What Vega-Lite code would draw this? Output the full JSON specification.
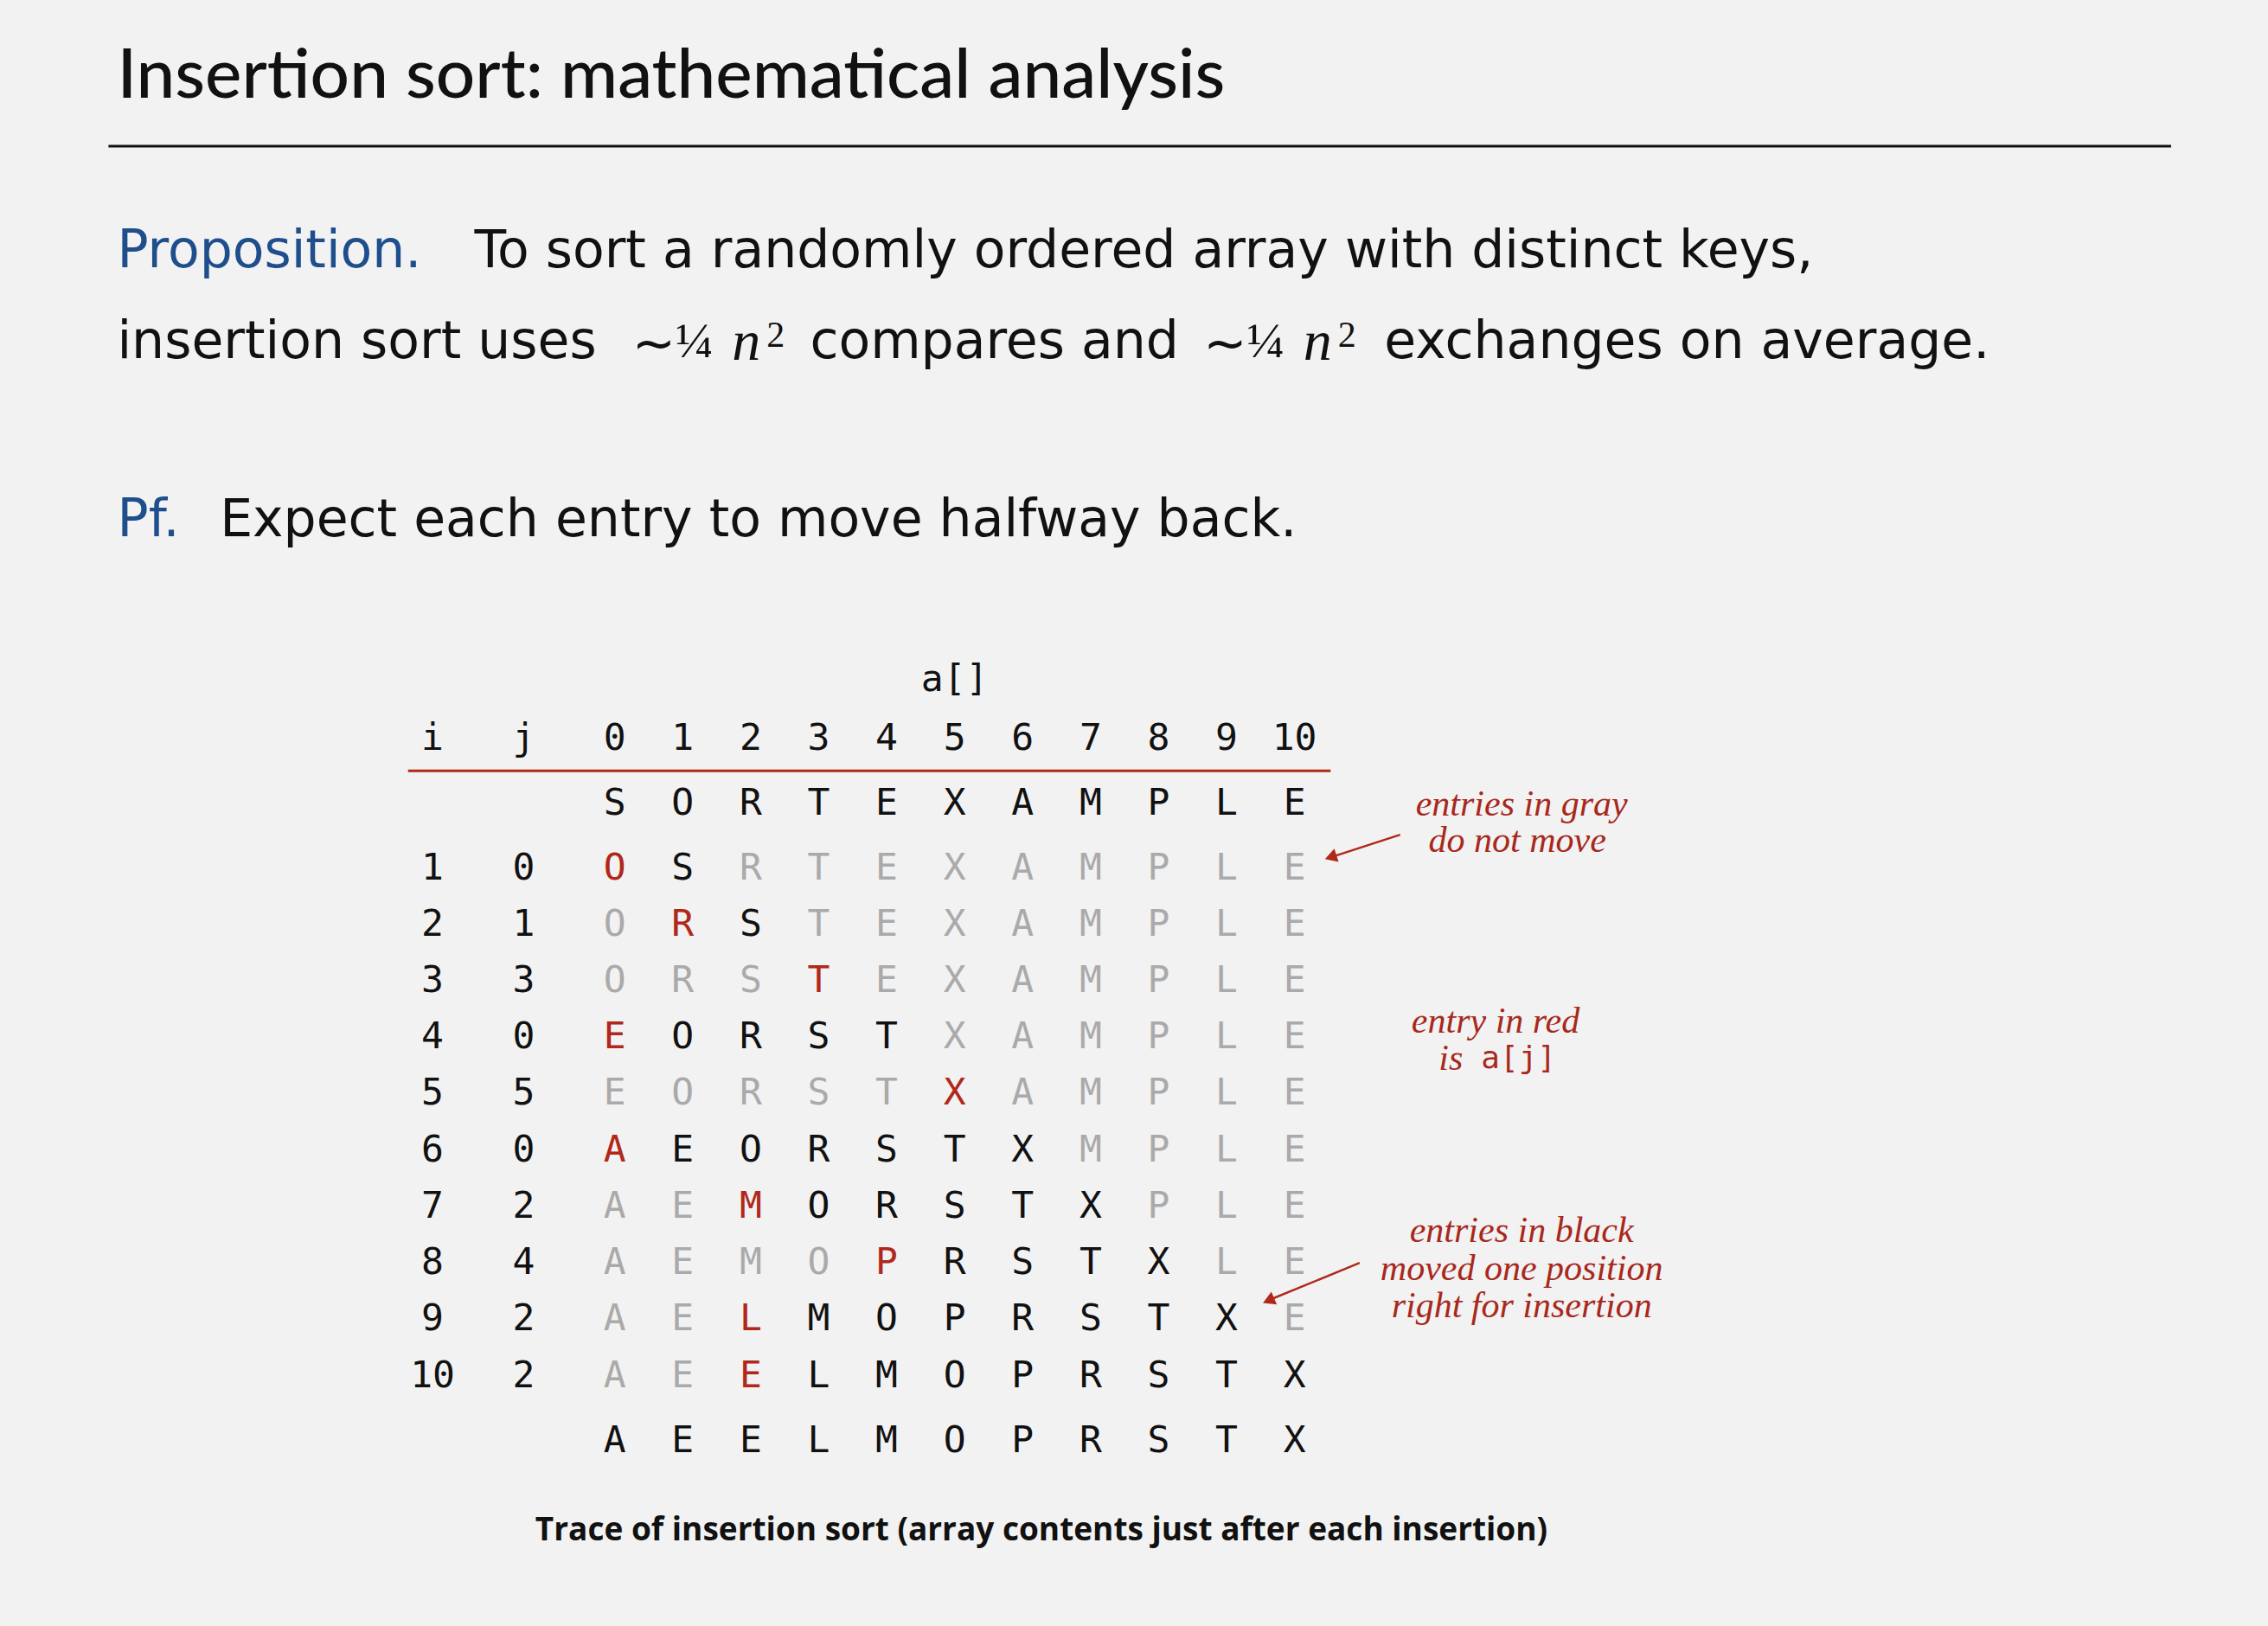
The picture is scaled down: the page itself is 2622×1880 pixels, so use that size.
{
  "$schema": "https://vega.github.io/schema/vega-lite/v6.json",
  "width": 2622,
  "height": 1880,
  "autosize": {"type": "fit", "contains": "padding"},
  "padding": 0,
  "background": "#f2f2f2",
  "config": {"view": {"stroke": null}},
  "datasets": {
    "page": [
      {"role": "title", "x": 81, "y": 53, "t": "Insertion sort:  mathematical analysis"},
      {"role": "blue", "x": 81, "y": 174, "t": "Proposition."},
      {"role": "body", "x": 328, "y": 174, "t": "To sort a randomly ordered array with distinct keys,"},
      {"role": "body", "x": 81, "y": 237, "t": "insertion sort uses"},
      {"role": "body", "x": 437, "y": 239, "t": "~"},
      {"role": "math", "x": 467, "y": 237, "t": "¼"},
      {"role": "mathit", "x": 506, "y": 237, "t": "n"},
      {"role": "sup", "x": 530, "y": 232, "t": "2"},
      {"role": "body", "x": 560, "y": 237, "t": "compares and"},
      {"role": "body", "x": 832, "y": 239, "t": "~"},
      {"role": "math", "x": 862, "y": 237, "t": "¼"},
      {"role": "mathit", "x": 901, "y": 237, "t": "n"},
      {"role": "sup", "x": 925, "y": 232, "t": "2"},
      {"role": "body", "x": 957, "y": 237, "t": "exchanges on average."},
      {"role": "blue", "x": 81, "y": 360, "t": "Pf."},
      {"role": "body", "x": 152, "y": 360, "t": "Expect each entry to move halfway back."},
      {"role": "note", "x": 1052, "y": 556, "t": "entries in gray"},
      {"role": "note", "x": 1049, "y": 581, "t": "do not move"},
      {"role": "note", "x": 1034, "y": 706, "t": "entry in red"},
      {"role": "noteL", "x": 1003, "y": 732, "t": "is"},
      {"role": "noteMono", "x": 1024, "y": 732, "t": "a[j]"},
      {"role": "note", "x": 1052, "y": 851, "t": "entries in black"},
      {"role": "note", "x": 1052, "y": 877, "t": "moved one position"},
      {"role": "note", "x": 1052, "y": 903, "t": "right for insertion"},
      {"role": "caption", "x": 720, "y": 1058, "t": "Trace of insertion sort (array contents just after each insertion)"}
    ],
    "lines": [
      {"kind": "hr", "x": 75, "y": 101, "x2": 1501, "y2": 101},
      {"kind": "arrow", "x": 968, "y": 577, "x2": 922, "y2": 592},
      {"kind": "arrow", "x": 940, "y": 873, "x2": 879, "y2": 898}
    ],
    "heads": [
      {"x": 920, "y": 592.5, "ang": 252},
      {"x": 877, "y": 899, "ang": 247}
    ],
    "table": [
      {"r": -2.33, "c": 5, "v": "a[]", "s": "k"},
      {"r": -1.3, "c": -2.68, "v": "i", "s": "k"},
      {"r": -1.3, "c": -1.34, "v": "j", "s": "k"},
      {"r": -1.3, "c": 0, "v": "0", "s": "k"},
      {"r": -1.3, "c": 1, "v": "1", "s": "k"},
      {"r": -1.3, "c": 2, "v": "2", "s": "k"},
      {"r": -1.3, "c": 3, "v": "3", "s": "k"},
      {"r": -1.3, "c": 4, "v": "4", "s": "k"},
      {"r": -1.3, "c": 5, "v": "5", "s": "k"},
      {"r": -1.3, "c": 6, "v": "6", "s": "k"},
      {"r": -1.3, "c": 7, "v": "7", "s": "k"},
      {"r": -1.3, "c": 8, "v": "8", "s": "k"},
      {"r": -1.3, "c": 9, "v": "9", "s": "k"},
      {"r": -1.3, "c": 10, "v": "10", "s": "k"},

      {"r": -0.15, "c": 0, "v": "S", "s": "k"},
      {"r": -0.15, "c": 1, "v": "O", "s": "k"},
      {"r": -0.15, "c": 2, "v": "R", "s": "k"},
      {"r": -0.15, "c": 3, "v": "T", "s": "k"},
      {"r": -0.15, "c": 4, "v": "E", "s": "k"},
      {"r": -0.15, "c": 5, "v": "X", "s": "k"},
      {"r": -0.15, "c": 6, "v": "A", "s": "k"},
      {"r": -0.15, "c": 7, "v": "M", "s": "k"},
      {"r": -0.15, "c": 8, "v": "P", "s": "k"},
      {"r": -0.15, "c": 9, "v": "L", "s": "k"},
      {"r": -0.15, "c": 10, "v": "E", "s": "k"},

      {"r": 1, "c": -2.68, "v": "1", "s": "k"},
      {"r": 1, "c": -1.34, "v": "0", "s": "k"},
      {"r": 1, "c": 0, "v": "O", "s": "r"},
      {"r": 1, "c": 1, "v": "S", "s": "k"},
      {"r": 1, "c": 2, "v": "R", "s": "g"},
      {"r": 1, "c": 3, "v": "T", "s": "g"},
      {"r": 1, "c": 4, "v": "E", "s": "g"},
      {"r": 1, "c": 5, "v": "X", "s": "g"},
      {"r": 1, "c": 6, "v": "A", "s": "g"},
      {"r": 1, "c": 7, "v": "M", "s": "g"},
      {"r": 1, "c": 8, "v": "P", "s": "g"},
      {"r": 1, "c": 9, "v": "L", "s": "g"},
      {"r": 1, "c": 10, "v": "E", "s": "g"},

      {"r": 2, "c": -2.68, "v": "2", "s": "k"},
      {"r": 2, "c": -1.34, "v": "1", "s": "k"},
      {"r": 2, "c": 0, "v": "O", "s": "g"},
      {"r": 2, "c": 1, "v": "R", "s": "r"},
      {"r": 2, "c": 2, "v": "S", "s": "k"},
      {"r": 2, "c": 3, "v": "T", "s": "g"},
      {"r": 2, "c": 4, "v": "E", "s": "g"},
      {"r": 2, "c": 5, "v": "X", "s": "g"},
      {"r": 2, "c": 6, "v": "A", "s": "g"},
      {"r": 2, "c": 7, "v": "M", "s": "g"},
      {"r": 2, "c": 8, "v": "P", "s": "g"},
      {"r": 2, "c": 9, "v": "L", "s": "g"},
      {"r": 2, "c": 10, "v": "E", "s": "g"},

      {"r": 3, "c": -2.68, "v": "3", "s": "k"},
      {"r": 3, "c": -1.34, "v": "3", "s": "k"},
      {"r": 3, "c": 0, "v": "O", "s": "g"},
      {"r": 3, "c": 1, "v": "R", "s": "g"},
      {"r": 3, "c": 2, "v": "S", "s": "g"},
      {"r": 3, "c": 3, "v": "T", "s": "r"},
      {"r": 3, "c": 4, "v": "E", "s": "g"},
      {"r": 3, "c": 5, "v": "X", "s": "g"},
      {"r": 3, "c": 6, "v": "A", "s": "g"},
      {"r": 3, "c": 7, "v": "M", "s": "g"},
      {"r": 3, "c": 8, "v": "P", "s": "g"},
      {"r": 3, "c": 9, "v": "L", "s": "g"},
      {"r": 3, "c": 10, "v": "E", "s": "g"},

      {"r": 4, "c": -2.68, "v": "4", "s": "k"},
      {"r": 4, "c": -1.34, "v": "0", "s": "k"},
      {"r": 4, "c": 0, "v": "E", "s": "r"},
      {"r": 4, "c": 1, "v": "O", "s": "k"},
      {"r": 4, "c": 2, "v": "R", "s": "k"},
      {"r": 4, "c": 3, "v": "S", "s": "k"},
      {"r": 4, "c": 4, "v": "T", "s": "k"},
      {"r": 4, "c": 5, "v": "X", "s": "g"},
      {"r": 4, "c": 6, "v": "A", "s": "g"},
      {"r": 4, "c": 7, "v": "M", "s": "g"},
      {"r": 4, "c": 8, "v": "P", "s": "g"},
      {"r": 4, "c": 9, "v": "L", "s": "g"},
      {"r": 4, "c": 10, "v": "E", "s": "g"},

      {"r": 5, "c": -2.68, "v": "5", "s": "k"},
      {"r": 5, "c": -1.34, "v": "5", "s": "k"},
      {"r": 5, "c": 0, "v": "E", "s": "g"},
      {"r": 5, "c": 1, "v": "O", "s": "g"},
      {"r": 5, "c": 2, "v": "R", "s": "g"},
      {"r": 5, "c": 3, "v": "S", "s": "g"},
      {"r": 5, "c": 4, "v": "T", "s": "g"},
      {"r": 5, "c": 5, "v": "X", "s": "r"},
      {"r": 5, "c": 6, "v": "A", "s": "g"},
      {"r": 5, "c": 7, "v": "M", "s": "g"},
      {"r": 5, "c": 8, "v": "P", "s": "g"},
      {"r": 5, "c": 9, "v": "L", "s": "g"},
      {"r": 5, "c": 10, "v": "E", "s": "g"},

      {"r": 6, "c": -2.68, "v": "6", "s": "k"},
      {"r": 6, "c": -1.34, "v": "0", "s": "k"},
      {"r": 6, "c": 0, "v": "A", "s": "r"},
      {"r": 6, "c": 1, "v": "E", "s": "k"},
      {"r": 6, "c": 2, "v": "O", "s": "k"},
      {"r": 6, "c": 3, "v": "R", "s": "k"},
      {"r": 6, "c": 4, "v": "S", "s": "k"},
      {"r": 6, "c": 5, "v": "T", "s": "k"},
      {"r": 6, "c": 6, "v": "X", "s": "k"},
      {"r": 6, "c": 7, "v": "M", "s": "g"},
      {"r": 6, "c": 8, "v": "P", "s": "g"},
      {"r": 6, "c": 9, "v": "L", "s": "g"},
      {"r": 6, "c": 10, "v": "E", "s": "g"},

      {"r": 7, "c": -2.68, "v": "7", "s": "k"},
      {"r": 7, "c": -1.34, "v": "2", "s": "k"},
      {"r": 7, "c": 0, "v": "A", "s": "g"},
      {"r": 7, "c": 1, "v": "E", "s": "g"},
      {"r": 7, "c": 2, "v": "M", "s": "r"},
      {"r": 7, "c": 3, "v": "O", "s": "k"},
      {"r": 7, "c": 4, "v": "R", "s": "k"},
      {"r": 7, "c": 5, "v": "S", "s": "k"},
      {"r": 7, "c": 6, "v": "T", "s": "k"},
      {"r": 7, "c": 7, "v": "X", "s": "k"},
      {"r": 7, "c": 8, "v": "P", "s": "g"},
      {"r": 7, "c": 9, "v": "L", "s": "g"},
      {"r": 7, "c": 10, "v": "E", "s": "g"},

      {"r": 8, "c": -2.68, "v": "8", "s": "k"},
      {"r": 8, "c": -1.34, "v": "4", "s": "k"},
      {"r": 8, "c": 0, "v": "A", "s": "g"},
      {"r": 8, "c": 1, "v": "E", "s": "g"},
      {"r": 8, "c": 2, "v": "M", "s": "g"},
      {"r": 8, "c": 3, "v": "O", "s": "g"},
      {"r": 8, "c": 4, "v": "P", "s": "r"},
      {"r": 8, "c": 5, "v": "R", "s": "k"},
      {"r": 8, "c": 6, "v": "S", "s": "k"},
      {"r": 8, "c": 7, "v": "T", "s": "k"},
      {"r": 8, "c": 8, "v": "X", "s": "k"},
      {"r": 8, "c": 9, "v": "L", "s": "g"},
      {"r": 8, "c": 10, "v": "E", "s": "g"},

      {"r": 9, "c": -2.68, "v": "9", "s": "k"},
      {"r": 9, "c": -1.34, "v": "2", "s": "k"},
      {"r": 9, "c": 0, "v": "A", "s": "g"},
      {"r": 9, "c": 1, "v": "E", "s": "g"},
      {"r": 9, "c": 2, "v": "L", "s": "r"},
      {"r": 9, "c": 3, "v": "M", "s": "k"},
      {"r": 9, "c": 4, "v": "O", "s": "k"},
      {"r": 9, "c": 5, "v": "P", "s": "k"},
      {"r": 9, "c": 6, "v": "R", "s": "k"},
      {"r": 9, "c": 7, "v": "S", "s": "k"},
      {"r": 9, "c": 8, "v": "T", "s": "k"},
      {"r": 9, "c": 9, "v": "X", "s": "k"},
      {"r": 9, "c": 10, "v": "E", "s": "g"},

      {"r": 10, "c": -2.68, "v": "10", "s": "k"},
      {"r": 10, "c": -1.34, "v": "2", "s": "k"},
      {"r": 10, "c": 0, "v": "A", "s": "g"},
      {"r": 10, "c": 1, "v": "E", "s": "g"},
      {"r": 10, "c": 2, "v": "E", "s": "r"},
      {"r": 10, "c": 3, "v": "L", "s": "k"},
      {"r": 10, "c": 4, "v": "M", "s": "k"},
      {"r": 10, "c": 5, "v": "O", "s": "k"},
      {"r": 10, "c": 6, "v": "P", "s": "k"},
      {"r": 10, "c": 7, "v": "R", "s": "k"},
      {"r": 10, "c": 8, "v": "S", "s": "k"},
      {"r": 10, "c": 9, "v": "T", "s": "k"},
      {"r": 10, "c": 10, "v": "X", "s": "k"},

      {"r": 11.15, "c": 0, "v": "A", "s": "k"},
      {"r": 11.15, "c": 1, "v": "E", "s": "k"},
      {"r": 11.15, "c": 2, "v": "E", "s": "k"},
      {"r": 11.15, "c": 3, "v": "L", "s": "k"},
      {"r": 11.15, "c": 4, "v": "M", "s": "k"},
      {"r": 11.15, "c": 5, "v": "O", "s": "k"},
      {"r": 11.15, "c": 6, "v": "P", "s": "k"},
      {"r": 11.15, "c": 7, "v": "R", "s": "k"},
      {"r": 11.15, "c": 8, "v": "S", "s": "k"},
      {"r": 11.15, "c": 9, "v": "T", "s": "k"},
      {"r": 11.15, "c": 10, "v": "X", "s": "k"}
    ],
    "tablerule": [{"c": -3.04, "c2": 10.53, "r": -0.72}]
  },
  "layer": [
    {
      "layer": [
        {
          "data": {"name": "lines"},
          "mark": {"type": "rule"},
          "encoding": {
            "x": {"field": "x", "type": "quantitative", "scale": {"domain": [0, 1568], "nice": false, "zero": false}, "axis": null},
            "y": {"field": "y", "type": "quantitative", "scale": {"domain": [0, 1124], "reverse": true, "nice": false, "zero": false}, "axis": null},
            "x2": {"field": "x2"},
            "y2": {"field": "y2"},
            "color": {"condition": {"test": "datum.kind == 'hr'", "value": "#111111"}, "value": "#b0281a"},
            "strokeWidth": {"condition": {"test": "datum.kind == 'hr'", "value": 3}, "value": 2.5}
          }
        },
        {
          "data": {"name": "heads"},
          "mark": {"type": "point", "shape": "triangle-up", "filled": true, "color": "#b0281a", "size": 260, "opacity": 1},
          "encoding": {
            "x": {"field": "x", "type": "quantitative", "axis": null},
            "y": {"field": "y", "type": "quantitative", "axis": null},
            "angle": {"field": "ang", "type": "quantitative", "scale": null}
          }
        },
        {
          "data": {"name": "page"},
          "transform": [{"filter": "datum.role == 'title'"}],
          "mark": {"type": "text", "align": "left", "baseline": "middle", "font": "Lato", "fontWeight": 500, "fontSize": 80, "color": "#111111"},
          "encoding": {"x": {"field": "x", "type": "quantitative", "axis": null}, "y": {"field": "y", "type": "quantitative", "axis": null}, "text": {"field": "t"}}
        },
        {
          "data": {"name": "page"},
          "transform": [{"filter": "datum.role == 'body' || datum.role == 'blue'"}],
          "mark": {"type": "text", "align": "left", "baseline": "middle", "font": "DejaVu Sans", "fontSize": 60},
          "encoding": {
            "x": {"field": "x", "type": "quantitative", "axis": null},
            "y": {"field": "y", "type": "quantitative", "axis": null},
            "text": {"field": "t"},
            "color": {"condition": {"test": "datum.role == 'blue'", "value": "#1f4e8c"}, "value": "#111111"}
          }
        },
        {
          "data": {"name": "page"},
          "transform": [{"filter": "datum.role == 'math'"}],
          "mark": {"type": "text", "align": "left", "baseline": "middle", "font": "Liberation Serif", "fontSize": 58, "color": "#111111"},
          "encoding": {"x": {"field": "x", "type": "quantitative", "axis": null}, "y": {"field": "y", "type": "quantitative", "axis": null}, "text": {"field": "t"}}
        },
        {
          "data": {"name": "page"},
          "transform": [{"filter": "datum.role == 'mathit'"}],
          "mark": {"type": "text", "align": "left", "baseline": "middle", "font": "Liberation Serif", "fontStyle": "italic", "fontSize": 66, "color": "#111111"},
          "encoding": {"x": {"field": "x", "type": "quantitative", "axis": null}, "y": {"field": "y", "type": "quantitative", "axis": null}, "text": {"field": "t"}}
        },
        {
          "data": {"name": "page"},
          "transform": [{"filter": "datum.role == 'sup'"}],
          "mark": {"type": "text", "align": "left", "baseline": "middle", "font": "Liberation Serif", "fontSize": 42, "color": "#111111"},
          "encoding": {"x": {"field": "x", "type": "quantitative", "axis": null}, "y": {"field": "y", "type": "quantitative", "axis": null}, "text": {"field": "t"}}
        },
        {
          "data": {"name": "page"},
          "transform": [{"filter": "datum.role == 'note' || datum.role == 'noteL'"}],
          "mark": {"type": "text", "baseline": "middle", "font": "Liberation Serif", "fontStyle": "italic", "fontSize": 42, "color": "#a8281c"},
          "encoding": {
            "x": {"field": "x", "type": "quantitative", "axis": null},
            "y": {"field": "y", "type": "quantitative", "axis": null},
            "text": {"field": "t"},
            "align": {"condition": {"test": "datum.role == 'noteL'", "value": "left"}, "value": "center"}
          }
        },
        {
          "data": {"name": "page"},
          "transform": [{"filter": "datum.role == 'noteMono'"}],
          "mark": {"type": "text", "align": "left", "baseline": "middle", "font": "DejaVu Sans Mono", "fontSize": 36, "color": "#a8281c"},
          "encoding": {"x": {"field": "x", "type": "quantitative", "axis": null}, "y": {"field": "y", "type": "quantitative", "axis": null}, "text": {"field": "t"}}
        },
        {
          "data": {"name": "page"},
          "transform": [{"filter": "datum.role == 'caption'"}],
          "mark": {"type": "text", "align": "center", "baseline": "middle", "font": "Open Sans", "fontWeight": "bold", "fontSize": 37, "color": "#111111"},
          "encoding": {"x": {"field": "x", "type": "quantitative", "axis": null}, "y": {"field": "y", "type": "quantitative", "axis": null}, "text": {"field": "t"}}
        }
      ],
      "resolve": {"scale": {"x": "shared", "y": "shared"}}
    },
    {
      "layer": [
        {
          "data": {"name": "tablerule"},
          "mark": {"type": "rule", "color": "#b0281a", "strokeWidth": 3},
          "encoding": {
            "x": {"field": "c", "type": "quantitative", "scale": {"domain": [-9.0426, 24.3191], "nice": false, "zero": false}, "axis": null},
            "x2": {"field": "c2"},
            "y": {"field": "r", "type": "quantitative", "scale": {"domain": [-14.3846, 14.4359], "reverse": true, "nice": false, "zero": false}, "axis": null}
          }
        },
        {
          "data": {"name": "table"},
          "mark": {"type": "text", "align": "center", "baseline": "middle", "font": "DejaVu Sans Mono", "fontSize": 43},
          "encoding": {
            "x": {"field": "c", "type": "quantitative", "axis": null},
            "y": {"field": "r", "type": "quantitative", "axis": null},
            "text": {"field": "v"},
            "color": {"field": "s", "type": "nominal", "scale": {"domain": ["k", "g", "r"], "range": ["#111111", "#aaaaaa", "#b0281a"]}, "legend": null}
          }
        }
      ],
      "resolve": {"scale": {"x": "shared", "y": "shared"}}
    }
  ],
  "resolve": {"scale": {"x": "independent", "y": "independent"}}
}
